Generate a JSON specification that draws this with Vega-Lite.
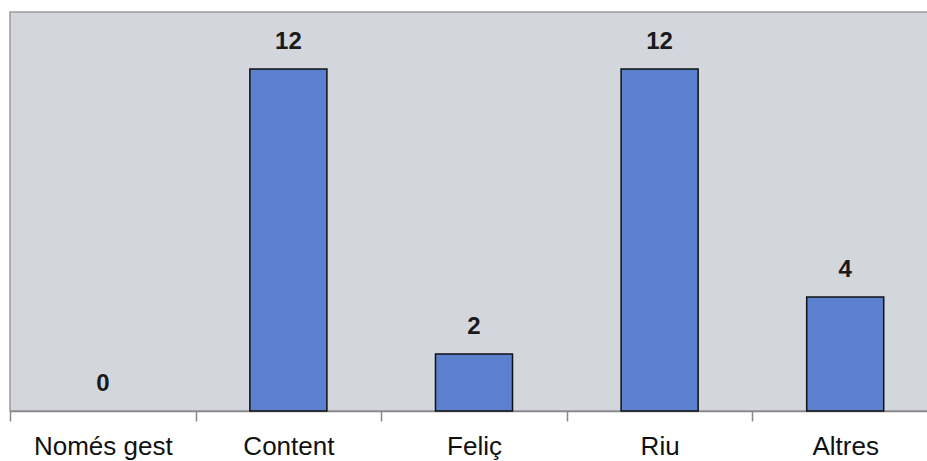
{
  "$schema": "https://vega.github.io/schema/vega-lite/v6.json",
  "autosize": {"type": "none"},
  "width": 928,
  "height": 399,
  "padding": {"left": 10, "top": 12, "right": 0, "bottom": 50},
  "background": "#ffffff",
  "config": {
    "view": {"fill": "#d4d6dd", "stroke": "#9a9a9a", "strokeWidth": 1.5},
    "font": "Liberation Sans"
  },
  "data": {
    "values": [
      {"categoria": "Només gest", "valor": 0},
      {"categoria": "Content", "valor": 12},
      {"categoria": "Feliç", "valor": 2},
      {"categoria": "Riu", "valor": 12},
      {"categoria": "Altres", "valor": 4}
    ]
  },
  "encoding": {
    "x": {
      "field": "categoria",
      "type": "nominal",
      "sort": null,
      "scale": {"domain": ["Només gest", "Content", "Feliç", "Riu", "Altres"], "paddingInner": 0, "paddingOuter": 0},
      "axis": {
        "title": null,
        "labelAngle": 0,
        "labelFontSize": 26,
        "labelColor": "#111111",
        "labelPadding": 12,
        "tickSize": 10,
        "tickColor": "#888888",
        "tickWidth": 1.5,
        "domainColor": "#888888",
        "domainWidth": 1.5,
        "bandPosition": 0,
        "tickBand": "extent"
      }
    },
    "y": {
      "field": "valor",
      "type": "quantitative",
      "scale": {"domain": [0, 14], "nice": false},
      "axis": null
    }
  },
  "layer": [
    {
      "transform": [{"filter": "datum.valor > 0"}],
      "mark": {"type": "bar", "width": {"band": 0.415}, "color": "#5b80cd", "stroke": "#111111", "strokeWidth": 1.5}
    },
    {
      "mark": {"type": "text", "fontSize": 24, "fontWeight": "bold", "dy": -20, "baseline": "alphabetic", "color": "#1a1a1a"},
      "encoding": {"text": {"field": "valor", "type": "quantitative"}}
    }
  ]
}
